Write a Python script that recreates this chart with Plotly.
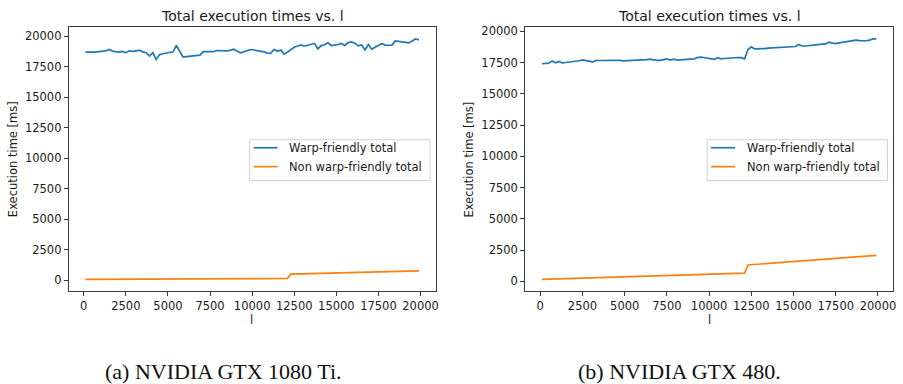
import plotly.graph_objects as go

# Problem size l (x axis), shared by every series
l_values = list(range(100, 20000, 200))

# GTX 1080 Ti total execution times [ms]
gtx1080_warp = [
    18700, 18690, 18710, 18700, 18740, 18760, 18800, 18910, 18780, 18740,
    18700, 18760, 18650, 18800, 18760, 18790, 18850, 18720, 18650, 18370,
    18650, 18100, 18480, 18560, 18600, 18700, 18720, 19240, 18800, 18290,
    18320, 18350, 18380, 18420, 18450, 18730, 18720, 18740, 18730, 18830,
    18820, 18790, 18800, 18840, 18930, 18780, 18640, 18720, 18830, 18910,
    18870, 18830, 18780, 18720, 18620, 18590, 18910, 18760, 18860, 18530,
    18700, 18910, 19100, 19200, 19290, 19180, 19260, 19320, 19400, 18960,
    19230, 19300, 19460, 19240, 19260, 19320, 19400, 19240, 19480, 19530,
    19430, 19210, 19290, 18880, 19320, 18940, 19100, 19260, 19400, 19260,
    19250, 19270, 19620, 19600, 19580, 19500, 19450, 19620, 19780, 19700,
]
gtx1080_nonwarp = [
    60, 62, 63, 65, 66, 68, 69, 71, 72, 74,
    75, 77, 78, 80, 81, 83, 84, 86, 87, 89,
    90, 92, 93, 95, 96, 98, 99, 101, 102, 104,
    105, 107, 108, 110, 111, 113, 114, 116, 117, 119,
    120, 122, 123, 125, 126, 128, 129, 131, 132, 134,
    135, 137, 138, 140, 141, 143, 144, 146, 147, 149,
    150, 490, 497, 505, 512, 519, 527, 534, 542, 549,
    556, 564, 571, 578, 586, 593, 601, 608, 615, 623,
    630, 637, 645, 652, 659, 667, 674, 682, 689, 696,
    704, 711, 718, 726, 733, 741, 748, 755, 763, 770,
]

# GTX 480 total execution times [ms]
gtx480_warp = [
    17410, 17430, 17460, 17640, 17490, 17590, 17490, 17510, 17540, 17560,
    17590, 17650, 17720, 17690, 17620, 17540, 17680, 17670, 17680, 17690,
    17680, 17700, 17720, 17680, 17640, 17650, 17660, 17670, 17690, 17700,
    17720, 17740, 17780, 17700, 17675, 17680, 17720, 17800, 17700, 17780,
    17710, 17730, 17760, 17740, 17790, 17800, 17900, 17940, 17910, 17870,
    17800, 17760, 17900, 17800, 17830, 17860, 17880, 17915, 17910, 17900,
    17800, 18550, 18760, 18600, 18590, 18580, 18620, 18660, 18680, 18710,
    18720, 18730, 18750, 18760, 18780, 18790, 18950, 18830, 18830, 18870,
    18880, 18920, 18950, 18980, 19000, 19135, 19060, 19030, 19080, 19120,
    19160, 19180, 19220, 19295, 19260, 19240, 19250, 19300, 19400, 19400,
]
gtx480_nonwarp = [
    150, 158, 167, 175, 183, 192, 200, 208, 217, 225,
    233, 242, 250, 258, 267, 275, 283, 292, 300, 308,
    317, 325, 333, 342, 350, 358, 367, 375, 383, 392,
    400, 408, 417, 425, 433, 442, 450, 458, 467, 475,
    483, 492, 500, 508, 517, 525, 533, 542, 550, 558,
    567, 575, 583, 592, 600, 608, 617, 625, 633, 642,
    650, 1310, 1330, 1350, 1371, 1391, 1411, 1432, 1452, 1472,
    1492, 1513, 1533, 1553, 1573, 1594, 1614, 1634, 1655, 1675,
    1695, 1715, 1736, 1756, 1776, 1796, 1817, 1837, 1857, 1877,
    1898, 1918, 1938, 1958, 1979, 1999, 2019, 2039, 2060, 2080,
]

tick_values = list(range(0, 20001, 2500))
tick_labels = [str(v) for v in tick_values]

series_names = ["Warp-friendly total", "Non warp-friendly total"]
panel_title = "Total execution times vs. l"
captions = ["(a) NVIDIA GTX 1080 Ti.", "(b) NVIDIA GTX 480."]

W, H = 903, 384
BLUE, ORANGE = "#1f77b4", "#ff7f0e"
SPINE = "#3a3a3a"
TEXT = "#1a1a1a"
SANS = "DejaVu Sans"
LINE_W = 1.7


def px_x(p):
    return p / W


def px_y(p):
    return 1 - p / H


def padded(values, frac=0.05):
    lo, hi = min(values), max(values)
    span = hi - lo
    return [lo - frac * span, hi + frac * span]


fig = go.Figure()

panels = [
    dict(warp=gtx1080_warp, nonwarp=gtx1080_nonwarp, left=69, right=437,
         label_x=252.6, cap_x=224),
    dict(warp=gtx480_warp, nonwarp=gtx480_nonwarp, left=527, right=896,
         label_x=711.4, cap_x=682),
]
top, bottom = 25, 291

annotations = []
shapes = []
for i, p in enumerate(panels):
    suffix = "" if i == 0 else str(i + 1)
    xa, ya = "x" + suffix, "y" + suffix
    colors = (BLUE, ORANGE)
    for vals, name, color in zip((p["warp"], p["nonwarp"]), series_names, colors):
        fig.add_trace(go.Scatter(
            x=l_values, y=vals, mode="lines", name=name,
            line=dict(color=color, width=LINE_W),
            xaxis=xa, yaxis=ya, showlegend=False,
        ))

    axis_common = dict(
        showline=True, mirror=True, linecolor=SPINE, linewidth=1,
        ticks="outside", ticklen=4, tickwidth=1, tickcolor=SPINE,
        showgrid=False, zeroline=False,
        tickfont=dict(family=SANS, size=11.5, color=TEXT),
        tickvals=tick_values, ticktext=tick_labels,
    )
    fig.update_layout({
        "xaxis" + suffix: dict(
            axis_common,
            domain=[px_x(p["left"]), px_x(p["right"])],
            anchor=ya,
            range=padded(l_values),
        ),
        "yaxis" + suffix: dict(
            axis_common,
            domain=[px_y(bottom), px_y(top)],
            anchor=xa,
            range=padded(p["warp"] + p["nonwarp"]),
        ),
    })

    cx = (p["left"] + p["right"]) / 2
    annotations += [
        dict(text=panel_title, x=px_x(cx), y=px_y(14), xref="paper", yref="paper",
             xanchor="center", yanchor="middle", showarrow=False,
             font=dict(family=SANS, size=14, color=TEXT)),
        dict(text="l", x=px_x(p["label_x"]), y=px_y(320), xref="paper", yref="paper",
             xanchor="center", yanchor="middle", showarrow=False,
             font=dict(family=SANS, size=11.5, color=TEXT)),
        dict(text="Execution time [ms]", x=px_x(p["left"] - 56), y=px_y((top + bottom) / 2),
             xref="paper", yref="paper", xanchor="center", yanchor="middle",
             textangle=-90, showarrow=False,
             font=dict(family=SANS, size=11.5, color=TEXT)),
        dict(text=captions[i], x=px_x(p["cap_x"]), y=px_y(371), xref="paper", yref="paper",
             xanchor="center", yanchor="middle", showarrow=False,
             font=dict(family="Liberation Serif", size=22, color="#111111")),
    ]

    # Legend box in the upper right of the lower half of each panel
    bx1 = p["right"] - 5.5
    bx0 = bx1 - 181
    by0, by1 = 138.5, 179.5
    shapes.append(dict(
        type="rect", xref="paper", yref="paper",
        x0=px_x(bx0), x1=px_x(bx1), y0=px_y(by1), y1=px_y(by0),
        line=dict(color="#d0d0d0", width=1), fillcolor="rgba(255,255,255,0.8)",
        layer="above",
    ))
    for row, (name, color) in enumerate(zip(series_names, colors)):
        ly = 146.5 + row * 19
        shapes.append(dict(
            type="line", xref="paper", yref="paper",
            x0=px_x(bx0 + 4), x1=px_x(bx0 + 28), y0=px_y(ly), y1=px_y(ly),
            line=dict(color=color, width=LINE_W), layer="above",
        ))
        annotations.append(dict(
            text=name, x=px_x(bx0 + 37.5), y=px_y(ly), xref="paper", yref="paper",
            xanchor="left", yanchor="middle", showarrow=False,
            font=dict(family=SANS, size=11.5, color=TEXT),
        ))

fig.update_layout(
    width=W, height=H,
    margin=dict(l=0, r=0, t=0, b=0),
    paper_bgcolor="white", plot_bgcolor="white",
    showlegend=False,
    annotations=annotations,
    shapes=shapes,
)

fig.write_html("out.html")
